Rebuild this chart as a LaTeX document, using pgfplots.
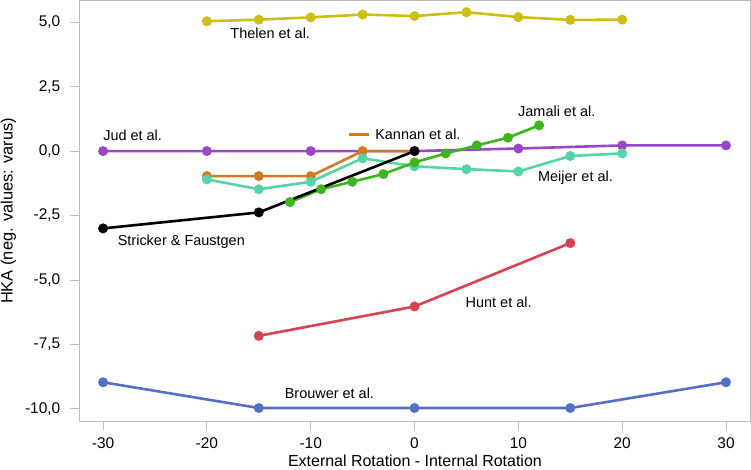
\documentclass[border=0pt]{standalone}
\usepackage{fontspec}
\setmainfont{Liberation Sans}
\usepackage{pgfplots}
\pgfplotsset{compat=1.18}

\definecolor{cThelen}{RGB}{205,190,18}
\definecolor{cJud}{RGB}{155,69,200}
\definecolor{cKannan}{RGB}{208,123,35}
\definecolor{cMeijer}{RGB}{85,212,168}
\definecolor{cJamali}{RGB}{61,181,29}
\definecolor{cHunt}{RGB}{217,67,79}
\definecolor{cBrouwer}{RGB}{84,112,198}
\definecolor{axgray}{RGB}{190,190,190}

\begin{document}
\begin{tikzpicture}
\begin{axis}[
  scale only axis,
  width=670bp, height=420bp,
  xmin=-32.27, xmax=32.35,
  ymin=-10.48, ymax=5.84,
  xtick={-30,-20,...,30},
  ytick={-10,-7.5,-5,-2.5,0,2.5,5},
  axis line style={axgray, line width=1.2pt},
  every tick/.style={axgray, line width=0.8pt},
  tick align=outside,
  major tick length=9bp,
  xtick pos=bottom, ytick pos=left,
  /pgf/number format/assume math mode=true,
  ticklabel style={font=\fontsize{15.5}{18}\selectfont, inner sep=0pt},
  yticklabel style={xshift=-10bp, /pgf/number format/.cd, fixed, fixed zerofill, precision=1, use comma},
  xticklabel style={yshift=-7bp},
  xlabel={External Rotation - Internal Rotation},
  ylabel={HKA (neg. values: varus)},
  xlabel style={font=\fontsize{16}{19}\selectfont, at={(rel axis cs:0.5,0)}, anchor=base,
    inner sep=0pt, text depth=3.5bp, yshift=-45bp},
  ylabel style={font=\fontsize{16.5}{19}\selectfont, at={(rel axis cs:0,0.5)}, anchor=south,
    inner sep=0pt, text height=12.6bp, text depth=3.6bp, yshift=63bp},
  every axis plot/.append style={line width=2.6bp, mark=*, mark size=3.6bp},
  clip=false,
]
% Brouwer et al.
\addplot[color=cBrouwer, mark options={fill=cBrouwer, draw=cBrouwer}] coordinates {
 (-30,-8.97) (-15,-9.97) (0,-9.97) (15,-9.97) (30,-8.97)};
% Hunt et al.
\addplot[color=cHunt, mark options={fill=cHunt, draw=cHunt}] coordinates {
 (-15,-7.17) (0,-6.03) (15,-3.57)};
% Thelen et al.
\addplot[color=cThelen, mark options={fill=cThelen, draw=cThelen}] coordinates {
 (-20,5.04) (-15,5.10) (-10,5.19) (-5,5.30) (0,5.24) (5,5.39) (10,5.20) (15,5.09) (20,5.10)};
% Jud et al.
\addplot[color=cJud, mark options={fill=cJud, draw=cJud}] coordinates {
 (-30,0) (-20,0) (-10,0) (0,0) (10,0.10) (20,0.22) (30,0.22)};
% Kannan et al.
\addplot[color=cKannan, mark options={fill=cKannan, draw=cKannan}] coordinates {
 (-20,-0.97) (-15,-0.97) (-10,-0.97) (-5,0) (0,0)};
% Meijer et al.
\addplot[color=cMeijer, mark options={fill=cMeijer, draw=cMeijer}] coordinates {
 (-20,-1.10) (-15,-1.48) (-10,-1.19) (-5,-0.28) (0,-0.59) (5,-0.70) (10,-0.79) (15,-0.19) (20,-0.09)};
% Jamali et al.
\addplot[color=cJamali, mark options={fill=cJamali, draw=cJamali}] coordinates {
 (-12,-1.98) (-9,-1.48) (-6,-1.19) (-3,-0.89) (0,-0.44) (3,-0.09) (6,0.22) (9,0.52) (12,1.0)};
% Stricker & Faustgen
\addplot[color=black, mark options={fill=black, draw=black}] coordinates {
 (-30,-3.0) (-15,-2.38) (0,0)};

\begin{scope}[every node/.style={font=\fontsize{14.5}{17}\selectfont, text=black}]
\node at (axis cs:-13.9,4.57) {Thelen et al.};
\node[anchor=west, inner sep=0pt] at (axis cs:-30,0.62) {Jud et al.};
\draw[cKannan, line width=2.6bp] (axis cs:-6.3,0.65) -- (axis cs:-4.35,0.65);
\node[anchor=west, inner sep=0pt] at (axis cs:-3.8,0.65) {Kannan et al.};
\node at (axis cs:13.7,1.55) {Jamali et al.};
\node at (axis cs:15.5,-1.03) {Meijer et al.};
\node[anchor=west, inner sep=0pt] at (axis cs:-28.6,-3.53) {Stricker \& Faustgen};
\node at (axis cs:8.1,-5.88) {Hunt et al.};
\node at (axis cs:-8.2,-9.39) {Brouwer et al.};
\end{scope}
\end{axis}
\end{tikzpicture}
\end{document}
